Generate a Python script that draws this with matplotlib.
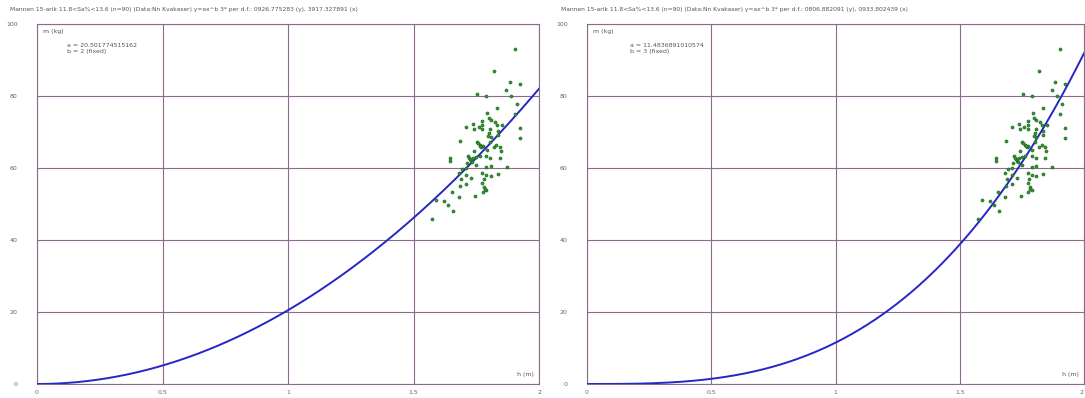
import numpy as np
import matplotlib
matplotlib.use("Agg")
import matplotlib.pyplot as plt

# heights (m) and weights (kg)
height = [1.905, 1.820, 1.883, 1.925, 1.870, 1.890, 1.754, 1.790, 1.912, 1.834,
          1.905, 1.794, 1.799, 1.808, 1.774, 1.824, 1.737, 1.774, 1.711, 1.774,
          1.742, 1.832, 1.852, 1.835, 1.806, 1.925, 1.925, 1.808, 1.835, 1.685,
          1.752, 1.763, 1.776, 1.803, 1.819, 1.843, 1.830, 1.792, 1.646, 1.646,
          1.719, 1.737, 1.729, 1.763, 1.790, 1.806, 1.843, 1.715, 1.750, 1.790,
          1.872, 1.808, 1.710, 1.683, 1.710, 1.774, 1.790, 1.808, 1.835, 1.731,
          1.689, 1.710, 1.686, 1.774, 1.782, 1.790, 1.776, 1.654, 1.745, 1.683,
          1.590, 1.622, 1.636, 1.659, 1.574, 1.760, 1.770, 1.756, 1.765, 1.726,
          1.722, 1.733, 1.847, 1.798, 1.749, 1.779, 1.784, 1.741, 1.801, 1.695]
weight = [93.1, 87.0, 83.8, 83.2, 81.7, 80.1, 80.5, 80.1, 77.8, 76.6,
          75.0, 75.4, 73.8, 73.3, 73.1, 72.9, 72.2, 71.9, 71.3, 70.7,
          70.7, 71.9, 71.9, 70.4, 70.7, 71.0, 68.2, 68.5, 69.2, 67.5,
          67.3, 66.4, 66.1, 67.3, 65.9, 65.7, 66.4, 65.0, 62.7, 62.0,
          63.3, 62.7, 62.0, 63.3, 63.3, 62.7, 62.7, 61.3, 60.8, 60.4,
          60.4, 60.6, 59.9, 58.5, 58.1, 58.7, 58.1, 57.8, 58.3, 57.1,
          56.9, 55.6, 55.0, 55.9, 54.8, 53.9, 53.3, 53.3, 52.2, 52.0,
          51.0, 50.9, 49.6, 48.1, 45.9, 71.5, 65.9, 66.9, 66.2, 62.4,
          62.9, 61.8, 64.8, 68.9, 63.0, 57.0, 54.2, 64.6, 69.8, 59.6]

coef_a = [20.501774515162, 11.4836891010574]
coef_b = [2, 3]
titles = [
    "Mannen 15-arik 11.8<Sa%<13.6 (n=90) (Data:Nn Kvakaser) y=ax^b 3* per d.f.: 0926.775283 (y), 3917.327891 (x)",
    "Mannen 15-arik 11.8<Sa%<13.6 (n=90) (Data:Nn Kvakaser) y=ax^b 3* per d.f.: 0806.882091 (y), 0933.802439 (x)",
]
xticks = [0, 0.5, 1, 1.5, 2]
xticklabels = ["0", "0.5", "1", "1.5", "2"]
yticks = [0, 20, 40, 60, 80, 100]

fig = plt.figure(figsize=(10.85, 3.98), dpi=100)
grid_col = "#8c6a8c"
lefts = [37 / 1085, 587 / 1085]
widths = [502 / 1085, 497 / 1085]
title_x = [10 / 1085, 561 / 1085]
coef_x = [0.06, 0.086]
unit_x = [0.99, 0.99]

for i in range(2):
    ax = fig.add_axes([lefts[i], 14 / 398, widths[i], 360 / 398])
    ax.set_xlim(0, 2)
    ax.set_ylim(0, 100)
    ax.set_xticks(xticks)
    ax.set_xticklabels(xticklabels)
    ax.set_yticks(yticks)
    ax.tick_params(length=0, labelsize=4.5, labelcolor="#666666")
    ax.tick_params(axis="x", pad=4)
    ax.tick_params(axis="y", pad=14)
    ax.grid(True, color=grid_col, lw=0.8)
    for s in ax.spines.values():
        s.set_color(grid_col)
        s.set_linewidth(0.8)
    if i == 1:
        # right panel sits on the picture edge; keep its last label inside
        ax.get_xticklabels()[-1].set_horizontalalignment("right")

    xs = np.linspace(0, 2, 400)
    ax.plot(xs, coef_a[i] * xs ** coef_b[i], color="#2626c8", lw=1.4, zorder=3)
    ax.scatter(height, weight, s=5, color="#2e9a2e", edgecolors="#1d5a1d",
               linewidths=0.4, zorder=4)

    ax.text(0.012, 0.985, "m (kg)", transform=ax.transAxes, fontsize=4.5,
            color="#555555", va="top", ha="left")
    ax.text(coef_x[i], 0.948, "a = %s\nb = %d (fixed)" % (repr(coef_a[i]), coef_b[i]),
            transform=ax.transAxes, fontsize=4.5, color="#555555", va="top",
            ha="left", linespacing=1.2)
    ax.text(unit_x[i], 0.02, "h (m)", transform=ax.transAxes,
            fontsize=4.5, color="#555555", va="bottom", ha="right")
    fig.text(title_x[i], 1 - 9 / 398, titles[i], fontsize=4.3, color="#555555",
             va="center", ha="left")

fig.savefig("out.png", dpi=100, facecolor="white")
